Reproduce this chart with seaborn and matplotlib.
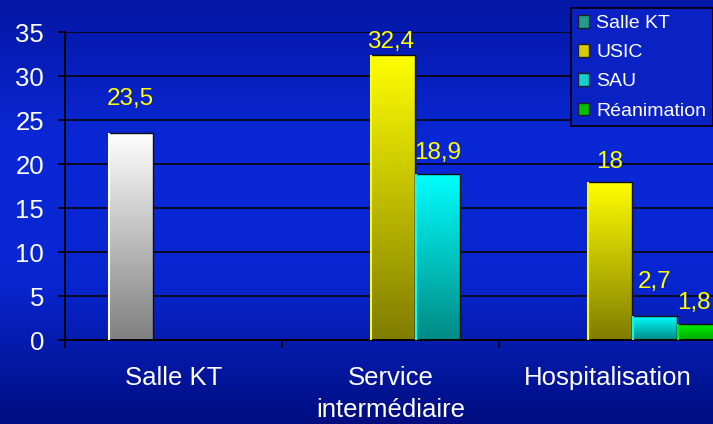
import numpy as np
import pandas as pd
import seaborn as sns
import matplotlib.pyplot as plt
from matplotlib import patches as mpatches
from matplotlib.colors import LinearSegmentedColormap

# data
categories = ["Salle KT", "Service\nintermédiaire", "Hospitalisation"]
series = ["Salle KT", "USIC", "SAU", "Réanimation"]
bar_category = ["Salle KT", "Service\nintermédiaire", "Hospitalisation",
                "Service\nintermédiaire", "Hospitalisation", "Hospitalisation"]
bar_series = ["Salle KT", "USIC", "USIC", "SAU", "SAU", "Réanimation"]
bar_values = [23.5, 32.4, 18.0, 18.9, 2.7, 1.8]
y_ticks = [0, 5, 10, 15, 20, 25, 30, 35]

# label offsets in points (dx, dy from bar top), placed by hand in the original
label_dx = [0, -1, 0, 0, 0, -4]
label_dy = [25, 9.5, 14, 15, 24.5, 15]

legend_colors = {"Salle KT": "#1f9e8e", "USIC": "#d8cc00",
                 "SAU": "#10d0d0", "Réanimation": "#00c000"}
# (bottom, top) colours of the bar gradients
gradients = {"Salle KT": ("#7f7f7f", "#ffffff"), "USIC": ("#807c00", "#ffff00"),
             "SAU": ("#008a84", "#00ffff"), "Réanimation": ("#00a800", "#00f000")}

df = pd.DataFrame({"cat": bar_category, "series": bar_series, "value": bar_values})

sns.set_style("white")
plt.rcParams["font.family"] = ["Liberation Sans", "DejaVu Sans"]

fig = plt.figure(figsize=(7.13, 4.24), dpi=100)

# blue gradient background
bg = fig.add_axes([0, 0, 1, 1])
bg_cmap = LinearSegmentedColormap.from_list(
    "bg", ["#000d80", "#0826d0", "#0a28d6", "#0416a4"])
bg.imshow(np.linspace(0, 1, 256).reshape(-1, 1), cmap=bg_cmap, aspect="auto",
          origin="lower", extent=[0, 1, 0, 1])
bg.set_axis_off()

ax = fig.add_axes([0.0912, 0.198, 0.9088 + 0.004, 0.7265])
ax.set_facecolor("none")

group_w = 0.829
sns.barplot(data=df, x="cat", y="value", hue="series", order=categories,
            hue_order=series, width=group_w, palette=legend_colors,
            saturation=1, legend=False, ax=ax, zorder=2)

# bars in the original sit a bit right of centre inside each group
shift = 0.113
bars = [p for p in ax.patches if p.get_height() > 0]
for p in bars:
    x0, w, h = p.get_x(), p.get_width(), p.get_height()
    xc = x0 + w / 2
    ci = round(xc)
    si = int(round((xc - ci + group_w / 2) / (group_w / 4) - 0.5))
    p.set_x(x0 + shift)
    x0 = x0 + shift
    lo, hi = gradients[series[si]]
    cmap = LinearSegmentedColormap.from_list("g", [lo, hi])
    im = ax.imshow(np.linspace(1, 0, 256).reshape(-1, 1), cmap=cmap,
                   aspect="auto", origin="upper", extent=[x0, x0 + w, 0, h],
                   zorder=2.5, interpolation="bilinear")
    im.set_clip_path(p)
    p.set_facecolor("none")
    p.set_edgecolor("#101010")
    p.set_linewidth(1.0)
    p.set_zorder(3)
    # light left edge, like the original 3D-ish bars
    ax.plot([x0 + 0.003, x0 + 0.003], [0, h], color=hi, lw=1.5, zorder=3.5,
            solid_capstyle="butt")

# value labels
for i, (c, s, v) in enumerate(zip(bar_category, bar_series, bar_values)):
    ci = categories.index(c)
    si = series.index(s)
    xc = ci - group_w / 2 + group_w / 8 * (2 * si + 1) + shift
    ax.annotate(f"{v:g}".replace(".", ","), (xc, v),
                xytext=(label_dx[i], label_dy[i]),
                textcoords="offset points", ha="center", va="center",
                color="#ffff00", fontsize=17.5, zorder=4, annotation_clip=False)

ax.set_xlim(-0.5, 2.5)
ax.set_ylim(0, 35)
ax.set_yticks(y_ticks)
ax.set_yticklabels([str(t) for t in y_ticks])
ax.yaxis.grid(True, color="#050505", linewidth=1.2)
ax.set_axisbelow(True)

ax.set_xticks(range(len(categories)))
ax.set_xticklabels(categories, linespacing=1.4)
ax.set_xticks([-0.5, 0.5, 1.5], minor=True)
ax.tick_params(axis="x", which="major", length=0, pad=19, labelsize=18.5,
               labelcolor="white")
ax.tick_params(axis="x", which="minor", length=6, width=1.2, color="black",
               direction="out", bottom=True)
ax.tick_params(axis="y", length=5, width=1.2, color="black", pad=10,
               labelsize=18.5, labelcolor="white", left=True)

for side in ["top", "right"]:
    ax.spines[side].set_visible(False)
for side in ["left", "bottom"]:
    ax.spines[side].set_color("black")
    ax.spines[side].set_linewidth(1.4)
ax.set_xlabel("")
ax.set_ylabel("")

handles = [mpatches.Patch(facecolor=legend_colors[s], edgecolor="#202020",
                          linewidth=1.0, label=s) for s in series]
leg = fig.legend(handles=handles, loc="upper right", bbox_to_anchor=(1.0, 0.98),
                 frameon=True, fancybox=False, facecolor="#0a22c4",
                 edgecolor="black", framealpha=1, fontsize=14, labelcolor="white",
                 handlelength=0.6, handleheight=0.6, handletextpad=0.35,
                 borderpad=0.35, labelspacing=0.62, borderaxespad=0)
leg.get_frame().set_linewidth(1.2)

fig.savefig("out.png", dpi=100)
